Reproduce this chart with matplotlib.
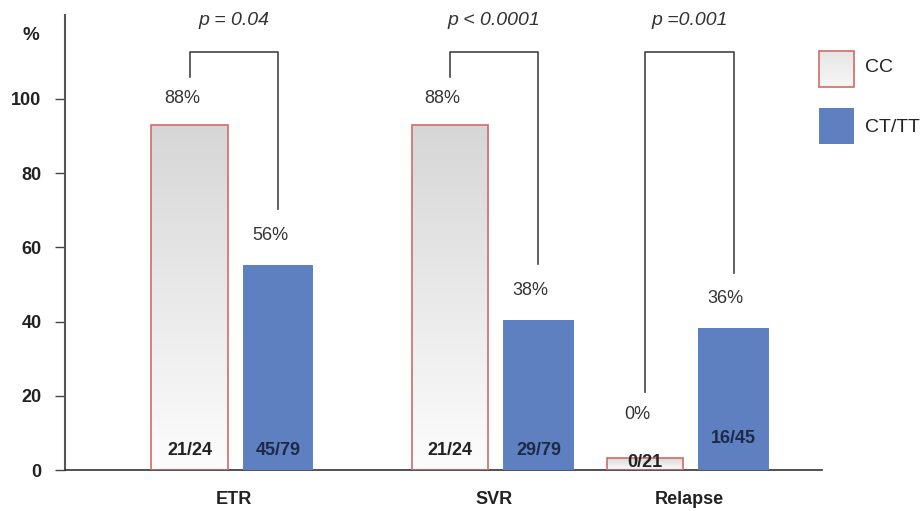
import numpy as np
import matplotlib
matplotlib.use("Agg")
import matplotlib.pyplot as plt
from matplotlib.patches import Rectangle

plt.rcParams['font.family'] = ['Liberation Sans', 'DejaVu Sans']

# data
categories = ["ETR", "SVR", "Relapse"]
cc_values = [93.0, 93.0, 3.3]
ct_values = [55.3, 40.4, 38.2]
cc_pct = ["88%", "88%", "0%"]
ct_pct = ["56%", "38%", "36%"]
cc_frac = ["21/24", "21/24", "0/21"]
ct_frac = ["45/79", "29/79", "16/45"]
p_values = ["p = 0.04", "p < 0.0001", "p =0.001"]
yticks = [0, 20, 40, 60, 80, 100]

# layout (groups are not evenly spaced in the original)
group_x = np.array([0.0, 1.0, 1.75])
offset = 0.17
cc_width = 0.295
ct_width = 0.27
blue = "#5f80c0"
red_edge = "#d46a6a"
bracket_top = 112.7

fig = plt.figure(figsize=(9.21, 5.11), dpi=100)
ax = fig.add_axes([65 / 921, 41 / 511, 757 / 921, 455 / 511])
ax.set_xlim(-0.65, 2.26)
ax.set_ylim(0, 122.6)

# gradient image used for the CC bars
grad = np.linspace(0.99, 0.84, 256).reshape(-1, 1)
grad_rgb = np.dstack([grad, grad, grad])

cc_x = group_x - offset
ct_x = group_x + offset

cc_bars = ax.bar(cc_x, cc_values, width=cc_width, facecolor="none",
                 edgecolor=red_edge, linewidth=1.2, zorder=3)
for b in cc_bars:
    x0, w, h = b.get_x(), b.get_width(), b.get_height()
    im = ax.imshow(grad_rgb, extent=[x0, x0 + w, 0, h], origin="lower",
                   aspect="auto", zorder=2, interpolation="bilinear")
    im.set_clip_path(b)

ax.bar(ct_x, ct_values, width=ct_width, color=blue, zorder=3)

# percent labels, brackets and p-values
for i in range(len(categories)):
    y_cc = max(cc_values[i] + 7, 15)
    y_ct = max(ct_values[i] + 8, 15)
    ax.text(cc_x[i] - 0.03, y_cc, cc_pct[i], ha="center", va="center",
            fontsize=13, color="#333333", zorder=4)
    ax.text(ct_x[i] - 0.03, y_ct, ct_pct[i], ha="center", va="center",
            fontsize=13, color="#333333", zorder=4)
    ax.plot([cc_x[i], cc_x[i], ct_x[i], ct_x[i]],
            [y_cc + 6, bracket_top, bracket_top, y_ct + 7],
            color="#444444", lw=1.2, zorder=4)
    ax.text(group_x[i], 121.2, p_values[i], ha="center", va="center",
            fontsize=14, style="italic", color="#333333")
    ax.text(cc_x[i], min(5.2, cc_values[i] / 2 + 0.3), cc_frac[i], ha="center",
            va="center", fontsize=13, fontweight="bold", color="#222222", zorder=4)
    ax.text(ct_x[i], 5.2 if i < 2 else 8.6, ct_frac[i], ha="center",
            va="center", fontsize=13, fontweight="bold", color="#1c2a48", zorder=4)

# axes styling
for s in ["top", "right"]:
    ax.spines[s].set_visible(False)
ax.spines["left"].set_color("#555555")
ax.spines["left"].set_linewidth(1.5)
ax.spines["bottom"].set_color("#333333")
ax.spines["bottom"].set_linewidth(1.2)
ax.set_yticks(yticks)
ax.set_yticklabels([str(t) for t in yticks], fontweight="bold", fontsize=13)
ax.tick_params(axis="y", length=7, width=1, color="#444444", pad=10, labelcolor="#222222")
ax.set_xticks(group_x)
ax.set_xticklabels(categories, fontweight="bold", fontsize=13, color="#222222")
ax.tick_params(axis="x", length=0, pad=15)

fig.text(31 / 921, 1 - 35 / 511, "%", ha="center", va="center",
         fontsize=13.5, fontweight="bold", color="#222222")

# legend drawn by hand
lx, lw_, lh = 819 / 921, 35 / 921, 36 / 511
leg_ax = fig.add_axes([lx, 1 - 87 / 511, lw_, lh])
leg_ax.imshow(np.dstack([np.linspace(0.9, 0.97, 256).reshape(-1, 1)] * 3),
              aspect="auto", extent=[0, 1, 0, 1])
leg_ax.axis("off")
fig.add_artist(Rectangle((lx, 1 - 87 / 511), lw_, lh, transform=fig.transFigure,
                         facecolor="none", edgecolor=red_edge, lw=1.2, zorder=3))
fig.add_artist(Rectangle((lx, 1 - 144 / 511), lw_, lh, transform=fig.transFigure,
                         facecolor=blue, edgecolor="none"))
fig.text(865 / 921, 1 - 67 / 511, "CC", ha="left", va="center", fontsize=14, color="#222222")
fig.text(865 / 921, 1 - 127 / 511, "CT/TT", ha="left", va="center", fontsize=14, color="#222222")

fig.savefig("out.png", dpi=100)
